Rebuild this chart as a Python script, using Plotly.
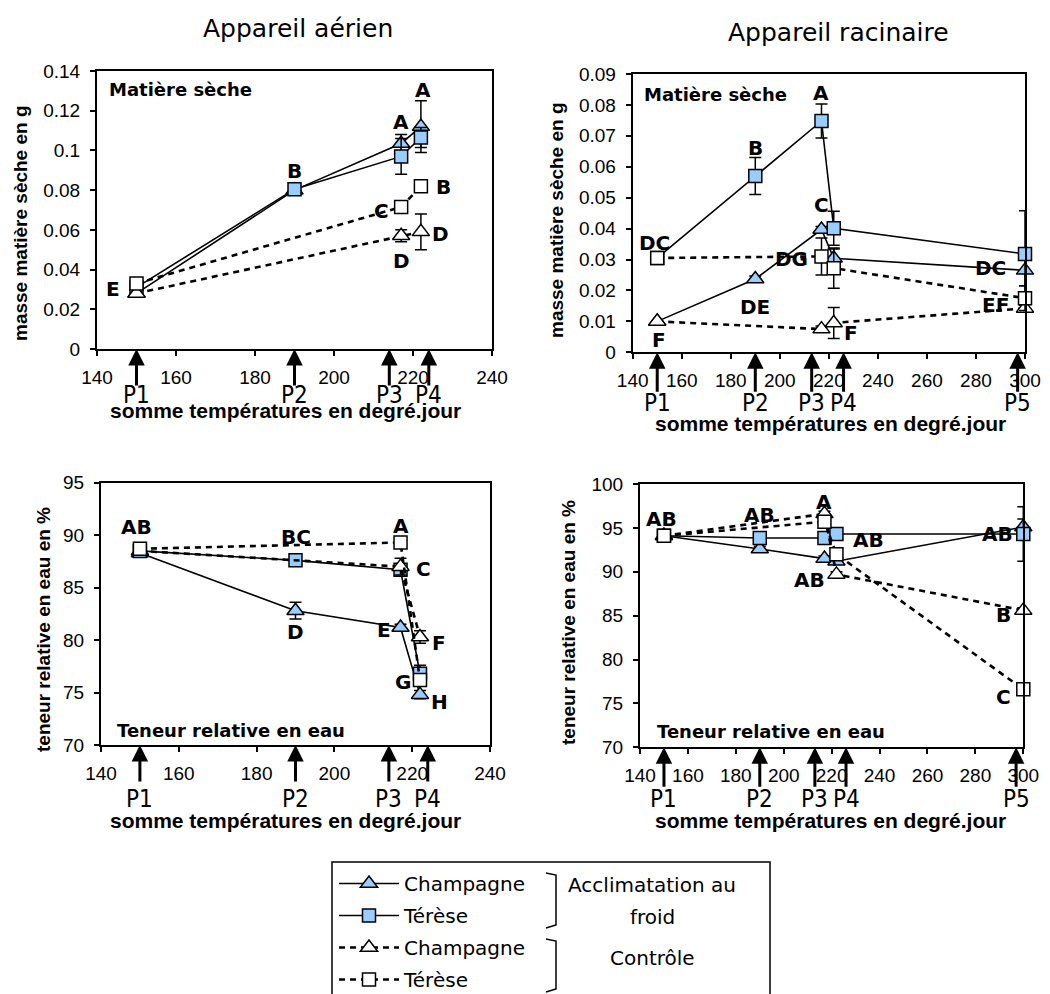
import plotly.graph_objects as go

FIG_W, FIG_H = 1050, 994
PAGE_OFFSET = 8  # default html body margin

# ---------------- data ----------------
x_left = [150, 190, 217, 222]
x_right = [150, 190, 217, 222, 300]
arrow_x_left = [150, 190, 214, 224]
arrow_x_right = [150, 190, 213, 226, 297]
p_labels_left = ["P1", "P2", "P3", "P4"]
p_labels_right = ["P1", "P2", "P3", "P4", "P5"]

legend_names = ["Champagne", "Térèse", "Champagne", "Térèse"]

# Appareil aérien - matière sèche (g)
tl_acc_champ = [0.028, 0.080, 0.1035, 0.112]
tl_acc_champ_err = [0, 0.001, 0.0045, 0.013]
tl_acc_teres = [0.031, 0.0805, 0.097, 0.1065]
tl_acc_teres_err = [0, 0.001, 0.009, 0.005]
tl_ctl_champ = [0.028, None, 0.057, 0.059]
tl_ctl_champ_err = [0, 0, 0.003, 0.009]
tl_ctl_teres = [0.033, None, 0.0715, 0.082]
tl_ctl_teres_err = [0, 0, 0.002, 0.002]

# Appareil racinaire - matière sèche (g)
tr_acc_champ = [0.010, 0.0237, 0.0397, 0.0304, 0.0265]
tr_acc_champ_err = [0, 0.001, 0.001, 0.003, 0.005]
tr_acc_teres = [0.0305, 0.057, 0.0748, 0.0401, 0.0318]
tr_acc_teres_err = [0, 0.006, 0.0055, 0.0055, 0.014]
tr_ctl_champ = [0.010, None, 0.0075, 0.0095, 0.0142]
tr_ctl_champ_err = [0, 0, 0.001, 0.005, 0.001]
tr_ctl_teres = [0.0305, None, 0.031, 0.0272, 0.0175]
tr_ctl_teres_err = [0, 0, 0.006, 0.0065, 0.004]

# Appareil aérien - teneur relative en eau (%)
bl_acc_champ = [88.3, 82.8, 81.2, 74.8]
bl_acc_champ_err = [0, 0.8, 0.3, 0.4]
bl_acc_teres = [88.5, 87.6, 86.7, 76.8]
bl_acc_teres_err = [0, 0.2, 0.3, 0.8]
bl_ctl_champ = [88.5, None, 87.0, 80.3]
bl_ctl_champ_err = [0, 0, 0.8, 0.6]
bl_ctl_teres = [88.7, None, 89.3, 76.2]
bl_ctl_teres_err = [0, 0, 0.3, 0.4]

# Appareil racinaire - teneur relative en eau (%)
br_acc_champ = [94.1, 92.6, 91.5, 91.2, 95.1]
br_acc_champ_err = [0, 0.3, 0.3, 0.3, 0.9]
br_acc_teres = [94.1, 93.85, 93.85, 94.3, 94.3]
br_acc_teres_err = [0, 0.4, 0.4, 0.3, 3.1]
br_ctl_champ = [94.1, None, 96.6, 89.7, 85.6]
br_ctl_champ_err = [0, 0, 0.3, 0.3, 0.3]
br_ctl_teres = [94.1, None, 95.7, 92.0, 76.6]
br_ctl_teres_err = [0, 0, 0.3, 0.3, 0.3]

# statistical letters: (series, point index, text, x offset px, y offset px)
tl_letters = [("ctl_teres", 0, "E", -24, -6), ("acc_teres", 1, "B", 0, 18),
              ("acc_champ", 2, "A", 0, 21), ("acc_champ", 3, "A", 2, 37),
              ("ctl_teres", 2, "C", -20, -4), ("ctl_champ", 2, "D", 0, -25),
              ("ctl_teres", 3, "B", 23, -1), ("ctl_champ", 3, "D", 20, -2)]
tr_letters = [("ctl_teres", 0, "DC", -3, 15), ("ctl_champ", 0, "F", 2, -19),
              ("acc_teres", 1, "B", 0, 28), ("acc_champ", 1, "DE", 0, -28),
              ("acc_teres", 2, "A", 0, 28), ("acc_champ", 2, "C", 0, 25),
              ("ctl_teres", 2, "DG", -30, -3), ("ctl_champ", 3, "F", 17, -10),
              ("acc_champ", 4, "DC", -35, 2), ("ctl_teres", 4, "EF", -30, -7)]
bl_letters = [("ctl_teres", 0, "AB", -3, 22), ("acc_teres", 1, "BC", 0, 23),
              ("acc_champ", 1, "D", 0, -21), ("ctl_teres", 2, "A", 0, 17),
              ("ctl_champ", 2, "C", 23, -2), ("acc_champ", 2, "E", -17, -3),
              ("ctl_champ", 3, "F", 19, -6), ("ctl_teres", 3, "G", -17, -2),
              ("acc_champ", 3, "H", 20, -7)]
br_letters = [("ctl_teres", 0, "AB", -2, 17), ("acc_teres", 1, "AB", 0, 23),
              ("ctl_champ", 2, "A", 0, 12), ("acc_teres", 3, "AB", 32, -6),
              ("acc_champ", 2, "AB", -15, -21), ("acc_teres", 4, "AB", -26, 0),
              ("ctl_champ", 4, "B", -20, -5), ("ctl_teres", 4, "C", -20, -8)]

# ---------------- styling ----------------
ARIAL = "Liberation Sans, Arial, sans-serif"
COMIC = "DejaVu Sans, sans-serif"
NARROW = "Liberation Sans Narrow, DejaVu Sans Condensed, DejaVu Sans, sans-serif"
BLUE = "#99CCFF"

styles = {
    "acc_champ": dict(symbol="triangle-up", fill=BLUE, dash="solid", width=1.6, size=15),
    "acc_teres": dict(symbol="square", fill=BLUE, dash="solid", width=1.6, size=13),
    "ctl_champ": dict(symbol="triangle-up", fill="white", dash="6px,5px", width=2.6, size=15),
    "ctl_teres": dict(symbol="square", fill="white", dash="6px,5px", width=2.6, size=13),
}
order = ["acc_champ", "acc_teres", "ctl_champ", "ctl_teres"]


def px2x(px):
    return (px - PAGE_OFFSET) / FIG_W


def py2y(py):
    return 1 - (py - PAGE_OFFSET) / FIG_H


panels = [
    dict(xa="x", ya="y", x=x_left, arrows=arrow_x_left, plabels=p_labels_left,
         series={"acc_champ": (tl_acc_champ, tl_acc_champ_err), "acc_teres": (tl_acc_teres, tl_acc_teres_err),
                 "ctl_champ": (tl_ctl_champ, tl_ctl_champ_err), "ctl_teres": (tl_ctl_teres, tl_ctl_teres_err)},
         letters=tl_letters, xdom=[px2x(97), px2x(492)], ydom=[py2y(349), py2y(71)],
         xrange=[140, 240], yrange=[0, 0.14], dtick=0.02, tickfs=19,
         arrow_len=38, plab_shift=-46, inner="Matière sèche", inner_pos=(0.025, 0.932),
         ytitle="masse matière sèche en g", ytitle_pos=(20, 223),
         xtitle_pos=(285, 410)),
    dict(xa="x2", ya="y2", x=x_right, arrows=arrow_x_right, plabels=p_labels_right,
         series={"acc_champ": (tr_acc_champ, tr_acc_champ_err), "acc_teres": (tr_acc_teres, tr_acc_teres_err),
                 "ctl_champ": (tr_ctl_champ, tr_ctl_champ_err), "ctl_teres": (tr_ctl_teres, tr_ctl_teres_err)},
         letters=tr_letters, xdom=[px2x(632.7), px2x(1025)], ydom=[py2y(352.3), py2y(74)],
         xrange=[140, 300], yrange=[0, 0.09], dtick=0.01, tickfs=19,
         arrow_len=41, plab_shift=-51, inner="Matière sèche", inner_pos=(0.023, 0.928),
         ytitle="masse matière sèche en g", ytitle_pos=(556, 220),
         xtitle_pos=(830, 423)),
    dict(xa="x3", ya="y3", x=x_left, arrows=arrow_x_left, plabels=p_labels_left,
         series={"acc_champ": (bl_acc_champ, bl_acc_champ_err), "acc_teres": (bl_acc_teres, bl_acc_teres_err),
                 "ctl_champ": (bl_ctl_champ, bl_ctl_champ_err), "ctl_teres": (bl_ctl_teres, bl_ctl_teres_err)},
         letters=bl_letters, xdom=[px2x(101), px2x(490)], ydom=[py2y(745), py2y(482.7)],
         xrange=[140, 240], yrange=[70, 95], dtick=5, tickfs=19,
         arrow_len=38, plab_shift=-54, inner="Teneur relative en eau", inner_pos=(0.036, 0.057),
         ytitle="teneur relative en eau en %", ytitle_pos=(43, 630),
         xtitle_pos=(285, 820)),
    dict(xa="x4", ya="y4", x=x_right, arrows=arrow_x_right, plabels=p_labels_right,
         series={"acc_champ": (br_acc_champ, br_acc_champ_err), "acc_teres": (br_acc_teres, br_acc_teres_err),
                 "ctl_champ": (br_ctl_champ, br_ctl_champ_err), "ctl_teres": (br_ctl_teres, br_ctl_teres_err)},
         letters=br_letters, xdom=[px2x(640), px2x(1023.3)], ydom=[py2y(747.3), py2y(484)],
         xrange=[140, 300], yrange=[70, 100], dtick=5, tickfs=19,
         arrow_len=41, plab_shift=-52, inner="Teneur relative en eau", inner_pos=(0.039, 0.059),
         ytitle="teneur relative en eau en %", ytitle_pos=(568, 623),
         xtitle_pos=(830, 820)),
]

fig = go.Figure()
annotations = []
shapes = []
layout_axes = {}

for pi, p in enumerate(panels):
    for k_i, key in enumerate(order):
        vals, errs = p["series"][key]
        st = styles[key]
        fig.add_trace(go.Scatter(
            x=p["x"], y=vals, xaxis=p["xa"], yaxis=p["ya"],
            mode="lines+markers", connectgaps=True, cliponaxis=False,
            name=legend_names[k_i], legendgroup=key, showlegend=(pi == 0),
            line=dict(color="black", width=st["width"], dash=st["dash"]),
            marker=dict(symbol=st["symbol"], size=st["size"], color=st["fill"],
                        line=dict(color="black", width=1.5)),
            error_y=dict(type="data", array=errs, visible=True, color="black",
                         thickness=1.5, width=6),
        ))
    xname = "xaxis" + ("" if p["xa"] == "x" else p["xa"][1:])
    yname = "yaxis" + ("" if p["ya"] == "y" else p["ya"][1:])
    layout_axes[xname] = dict(domain=p["xdom"], anchor=p["ya"], range=p["xrange"], dtick=20,
                              tick0=140, showgrid=False, zeroline=False, showline=True,
                              linecolor="black", linewidth=2, mirror=True, ticks="outside",
                              ticklen=5, tickwidth=1.5, tickcolor="black", automargin=False,
                              tickfont=dict(family=ARIAL, size=p["tickfs"], color="black"),
                              ticklabelstandoff=5)
    layout_axes[yname] = dict(domain=p["ydom"], anchor=p["xa"], range=p["yrange"], dtick=p["dtick"],
                              showgrid=False, zeroline=False, showline=True,
                              linecolor="black", linewidth=2, mirror=True, ticks="outside",
                              ticklen=5, tickwidth=1.5, tickcolor="black", automargin=False,
                              tickfont=dict(family=ARIAL, size=p["tickfs"], color="black"),
                              ticklabelstandoff=6)
    for ax_v, lab in zip(p["arrows"], p["plabels"]):
        annotations.append(dict(x=ax_v, y=0, xref=p["xa"], yref=p["ya"] + " domain",
                                ax=0, ay=p["arrow_len"], showarrow=True, arrowhead=2,
                                arrowsize=1.1, arrowwidth=3, arrowcolor="black", text="",
                                standoff=0))
        annotations.append(dict(x=ax_v, y=0, xref=p["xa"], yref=p["ya"] + " domain",
                                yshift=p["plab_shift"], showarrow=False, text=lab,
                                font=dict(family=NARROW, size=24, color="black"),
                                xanchor="center", yanchor="middle"))
    for key, idx, txt, dx, dy in p["letters"]:
        annotations.append(dict(x=p["x"][idx], y=p["series"][key][0][idx], xref=p["xa"], yref=p["ya"],
                                xshift=dx, yshift=dy, showarrow=False, text="<b>%s</b>" % txt,
                                font=dict(family=COMIC, size=20, color="black"),
                                xanchor="center", yanchor="middle"))
    annotations.append(dict(x=p["inner_pos"][0], y=p["inner_pos"][1], xref=p["xa"] + " domain",
                            yref=p["ya"] + " domain", showarrow=False,
                            text="<b>%s</b>" % p["inner"], xanchor="left", yanchor="middle",
                            font=dict(family=COMIC, size=18, color="black")))
    annotations.append(dict(x=px2x(p["ytitle_pos"][0]), y=py2y(p["ytitle_pos"][1]), xref="paper",
                            yref="paper", showarrow=False, textangle=-90,
                            text="<b>%s</b>" % p["ytitle"], xanchor="center", yanchor="middle",
                            font=dict(family=ARIAL, size=19, color="black")))
    annotations.append(dict(x=px2x(p["xtitle_pos"][0]), y=py2y(p["xtitle_pos"][1]), xref="paper",
                            yref="paper", showarrow=False,
                            text="<b>somme températures en degré.jour</b>", xanchor="center",
                            yanchor="middle", font=dict(family=ARIAL, size=21, color="black")))


def paper_text(txt, px, py, size):
    return dict(x=px2x(px), y=py2y(py), xref="paper", yref="paper", showarrow=False,
                text=txt, xanchor="center", yanchor="middle",
                font=dict(family=COMIC, size=size, color="black"))


annotations.append(paper_text("Appareil aérien", 298, 28, 25))
annotations.append(paper_text("Appareil racinaire", 838, 32, 25))

shapes.append(dict(type="rect", xref="paper", yref="paper", x0=px2x(332), x1=px2x(770),
                   y0=py2y(1010), y1=py2y(862), line=dict(color="black", width=1.5)))
shapes.append(dict(type="path", xref="paper", yref="paper",
                   path="M %f,%f L %f,%f L %f,%f L %f,%f" % (
                       px2x(546), py2y(873), px2x(556), py2y(875), px2x(556), py2y(925),
                       px2x(546), py2y(928)), line=dict(color="black", width=1.5)))
shapes.append(dict(type="path", xref="paper", yref="paper",
                   path="M %f,%f L %f,%f L %f,%f L %f,%f" % (
                       px2x(546), py2y(939), px2x(556), py2y(941), px2x(556), py2y(989),
                       px2x(546), py2y(992)), line=dict(color="black", width=1.5)))
annotations.append(paper_text("Acclimatation au", 652, 885, 20))
annotations.append(paper_text("froid", 652, 917, 20))
annotations.append(paper_text("Contrôle", 652, 958, 20))

fig.update_layout(
    width=FIG_W, height=FIG_H, margin=dict(l=0, r=0, t=0, b=0, autoexpand=False),
    paper_bgcolor="white", plot_bgcolor="white",
    annotations=annotations, shapes=shapes,
    legend=dict(x=px2x(334), y=py2y(864), xanchor="left", yanchor="top",
                bgcolor="rgba(0,0,0,0)", borderwidth=0, itemwidth=60,
                tracegroupgap=3, traceorder="grouped",
                font=dict(family=COMIC, size=20, color="black")),
    **layout_axes,
)

fig.write_html("out.html")
